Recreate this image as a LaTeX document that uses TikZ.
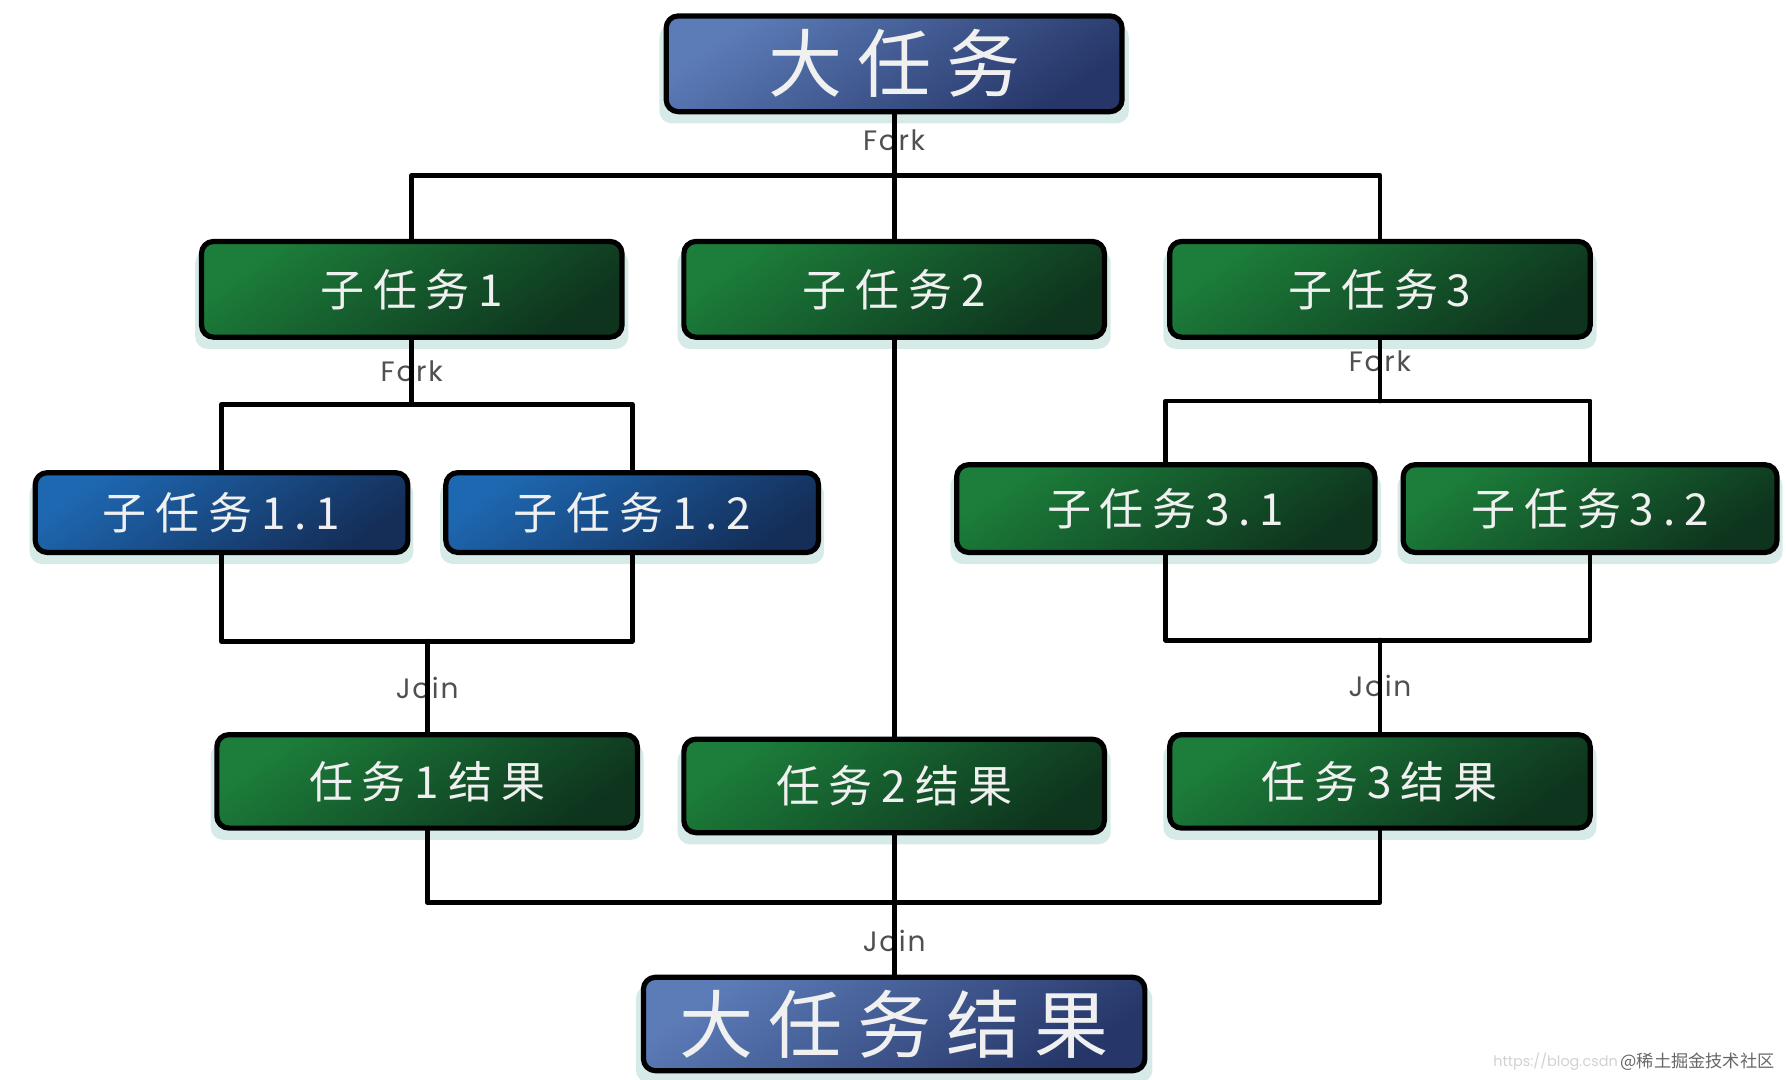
\documentclass[tikz,border=0pt]{standalone}
\usepackage{fontspec}
\usepackage{xcolor}
\usetikzlibrary{shadows}
\setmainfont{Poppins}
\newfontfamily\cjk{Noto Sans CJK SC}[LetterSpace=20]
\newfontfamily\cjkplain{Noto Sans CJK SC}
\newfontfamily\lbl{Poppins}[LetterSpace=6]
\definecolor{slatetop}{RGB}{92,124,184}
\definecolor{slatebot}{RGB}{38,54,104}
\definecolor{bluetop}{RGB}{30,104,178}
\definecolor{bluebot}{RGB}{20,46,88}
\definecolor{greentop}{RGB}{28,126,58}
\definecolor{greenbot}{RGB}{14,52,30}
\definecolor{glowteal}{RGB}{165,210,205}
\definecolor{labelgray}{RGB}{80,80,80}

\begin{document}
\begin{tikzpicture}[line cap=round,line join=round,x=0.01cm,y=-0.01cm,
  box/.style={draw=black, line width=1.3pt, rounded corners=3pt, text=white!94!black, inner sep=0pt,
    drop shadow={shadow xshift=0pt, shadow yshift=-2.5pt, shadow scale=1.03, fill=glowteal, opacity=0.45}},
  bigbox/.style={box, top color=slatetop, bottom color=slatebot, shading angle=35,
    minimum width=4cm, minimum height=0.84cm, font=\cjk\fontsize{18.5}{18.5}\selectfont},
  greenbox/.style={box, top color=greentop, bottom color=greenbot, shading angle=35,
    minimum width=3.69cm, minimum height=0.84cm, font=\cjk\fontsize{11}{11}\selectfont},
  bluebox/.style={box, top color=bluetop, bottom color=bluebot, shading angle=35,
    minimum width=3.27cm, minimum height=0.70cm, font=\cjk\fontsize{11}{11}\selectfont},
  steplabel/.style={text=labelgray, inner sep=0pt, font=\lbl\fontsize{7}{7}\selectfont},
  link/.style={draw=black, line width=1.2pt}]
\useasboundingbox (0,0) rectangle (1568,948);
% task boxes
\node[bigbox] (main) at (785,56) {大任务};
\node[greenbox] (sub1) at (361.5,254) {子任务1};
\node[greenbox] (sub2) at (785,254) {子任务2};
\node[greenbox] (sub3) at (1211.5,254) {子任务3};
\node[bluebox] (sub11) at (194.5,450) {子任务1.1};
\node[bluebox] (sub12) at (555,450) {子任务1.2};
\node[greenbox, minimum width=3.67cm, minimum height=0.77cm] (sub31) at (1023.5,446.5) {子任务3.1};
\node[greenbox, minimum width=3.28cm, minimum height=0.77cm] (sub32) at (1396,446.5) {子任务3.2};
\node[greenbox, minimum height=0.82cm] (res1) at (375,686) {任务1结果};
\node[greenbox, minimum height=0.82cm] (res2) at (785,690) {任务2结果};
\node[greenbox, minimum height=0.82cm] (res3) at (1211.5,686) {任务3结果};
\node[bigbox, minimum width=4.4cm, minimum height=0.82cm] (final) at (785,899) {大任务结果};
% fork / join labels
\node[steplabel] (fork0) at (785,123) {Fork};
\node[steplabel] (fork1) at (361.5,326) {Fork};
\node[steplabel] (fork3) at (1211.5,317) {Fork};
\node[steplabel] (join1) at (375,604) {Join};
\node[steplabel] (join3) at (1211.5,602) {Join};
\node[steplabel] (join0) at (785,826) {Join};
% branch points
\coordinate (fk0) at (785,154);
\coordinate (fk1) at (361.5,355);
\coordinate (fk3) at (1211.5,352);
\coordinate (jn1) at (375,563);
\coordinate (jn3) at (1211.5,562);
\coordinate (jn0) at (785,792);
% connectors
\draw[link] (main.south) -- (sub2.north);
\draw[link] (sub1.north) |- (fk0) -| (sub3.north);
\draw[link] (sub1.south) -- (fk1);
\draw[link] (sub11.north) |- (fk1) -| (sub12.north);
\draw[link] (sub3.south) -- (fk3);
\draw[link] (sub31.north) |- (fk3) -| (sub32.north);
\draw[link] (sub11.south) |- (jn1) -| (sub12.south);
\draw[link] (jn1) -- (res1.north);
\draw[link] (sub31.south) |- (jn3) -| (sub32.south);
\draw[link] (jn3) -- (res3.north);
\draw[link] (sub2.south) -- (res2.north);
\draw[link] (res1.south) |- (jn0) -| (res3.south);
\draw[link] (res2.south) -- (final.north);
% watermark
\node[anchor=east, inner sep=0pt, text=black!18, font=\fontsize{3.6}{3.6}\selectfont] (wmurl) at (1421,932) {https://blog.csdn};
\node[anchor=west, inner sep=0pt, text=black!60, font=\cjkplain\fontsize{4.3}{4.3}\selectfont] (wmname) at (1422,932) {@稀土掘金技术社区};
\end{tikzpicture}
\end{document}
